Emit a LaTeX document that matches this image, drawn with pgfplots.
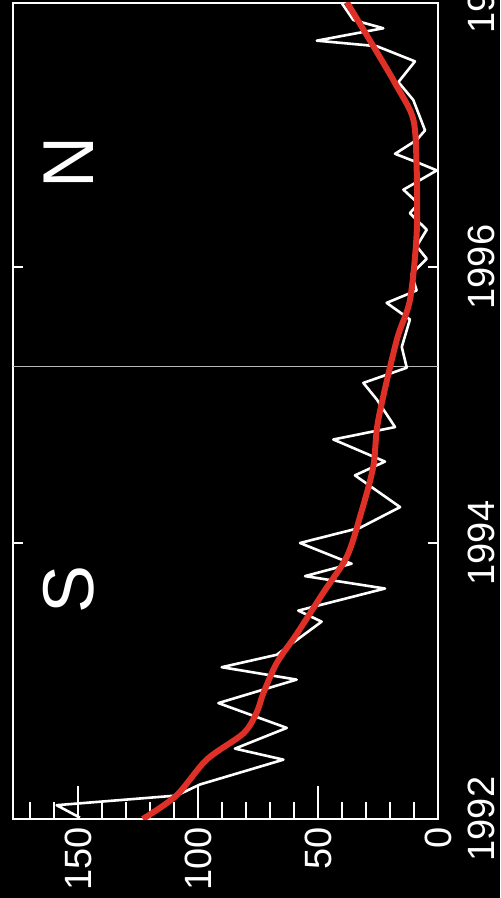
\documentclass[border=0pt]{standalone}
\usepackage{fontspec}
\setmainfont{Liberation Sans}
\usepackage{pgfplots}
\pgfplotsset{compat=1.18}
\definecolor{redline}{RGB}{222,48,38}
\begin{document}
\begin{tikzpicture}
\fill[black] (-6.5pt,-39.5pt) rectangle (243.5pt,409.5pt);
\begin{axis}[
  name=ax,
  at={(0pt,0pt)}, anchor=south west,
  scale only axis, width=212.5pt, height=408pt,
  xmin=0, xmax=177.08, x dir=reverse,
  ymin=1992, ymax=1997.913,
  axis line style={white, line width=1pt},
  axis background/.style={fill=black},
  xtick={0,50,100,150},
  minor xtick={10,20,30,40,60,70,80,90,110,120,130,140,160,170},
  xtick pos=left,
  ytick pos=both, yticklabel pos=right,
  tick align=inside,
  major tick length=16.5pt, minor tick length=8.5pt,
  every tick/.style={white, line width=1pt},
  ytick=\empty,
  extra y ticks={1992,1994,1996},
  extra y tick labels={1992,1994,1996},
  extra y tick style={major tick length=5pt, tick align=inside},
  /pgf/number format/assume math mode=true,
  tick label style={white, font=\fontsize{19}{22}\selectfont},
  xticklabel style={yshift=-4pt, rotate=90, anchor=east, inner sep=0pt},
  yticklabel style={xshift=15pt, rotate=90, anchor=north, inner sep=0pt},
]
\addplot[gray!55, line width=0.5pt] coordinates {(0,1995.28) (177.08,1995.28)};
\addplot[white, line width=1.3pt, line join=round] coordinates {
(149.2,1992.01) (158.9,1992.10) (108.9,1992.17) (99.2,1992.25) (64.4,1992.43)
(84.6,1992.51) (63.0,1992.66) (91.5,1992.84) (58.9,1993.01) (90.1,1993.10)
(67.2,1993.19) (48.5,1993.43) (58.2,1993.51) (22.1,1993.67) (55.4,1993.76)
(36.0,1993.85) (57.5,1994.00) (32.5,1994.11) (15.8,1994.26) (34.6,1994.49)
(22.1,1994.59) (43.6,1994.75) (17.9,1994.84) (25.5,1995.04) (31.1,1995.16)
(13.0,1995.27) (15.1,1995.42) (11.7,1995.62) (21.4,1995.74) (8.9,1995.83)
(11.0,1995.95) (4.7,1996.06) (8.9,1996.15) (4.7,1996.27) (11.7,1996.39)
(8.2,1996.46) (14.4,1996.56) (0.5,1996.70) (7.5,1996.75) (17.9,1996.82)
(8.9,1996.92) (5.4,1996.99) (10.3,1997.21) (16.5,1997.34) (9.6,1997.49)
(25.5,1997.60) (50.5,1997.64) (22.8,1997.73) (35.3,1997.79) (40.8,1997.93)
};
\addplot[redline, line width=3pt, smooth] coordinates {
(123,1992.0) (109,1992.17) (96.4,1992.43) (81.1,1992.62) (75.6,1992.77)
(72.8,1992.91) (67.2,1993.13) (58.9,1993.34) (47.8,1993.64) (38,1993.90)
(32.5,1994.19) (27,1994.55) (24.9,1994.89) (17.2,1995.47) (11.7,1995.76)
(8.9,1996.24) (8.9,1996.72) (10.3,1997.07) (17.2,1997.31) (24.2,1997.52)
(38,1997.92)
};
\node[white, rotate=90, font=\fontsize{36}{40}\selectfont] at (axis cs:153.75,1993.66) {S};
\node[white, rotate=90, font=\fontsize{36}{40}\selectfont] at (axis cs:153.75,1996.76) {N};
\end{axis}
\node[white, rotate=90, anchor=north, inner sep=0pt, font=\fontsize{19}{22}\selectfont] at (227.5pt,414pt) {1998};
\pgfresetboundingbox
\useasboundingbox (-6.5pt,-39.5pt) rectangle (243.5pt,409.5pt);
\end{tikzpicture}
\end{document}
